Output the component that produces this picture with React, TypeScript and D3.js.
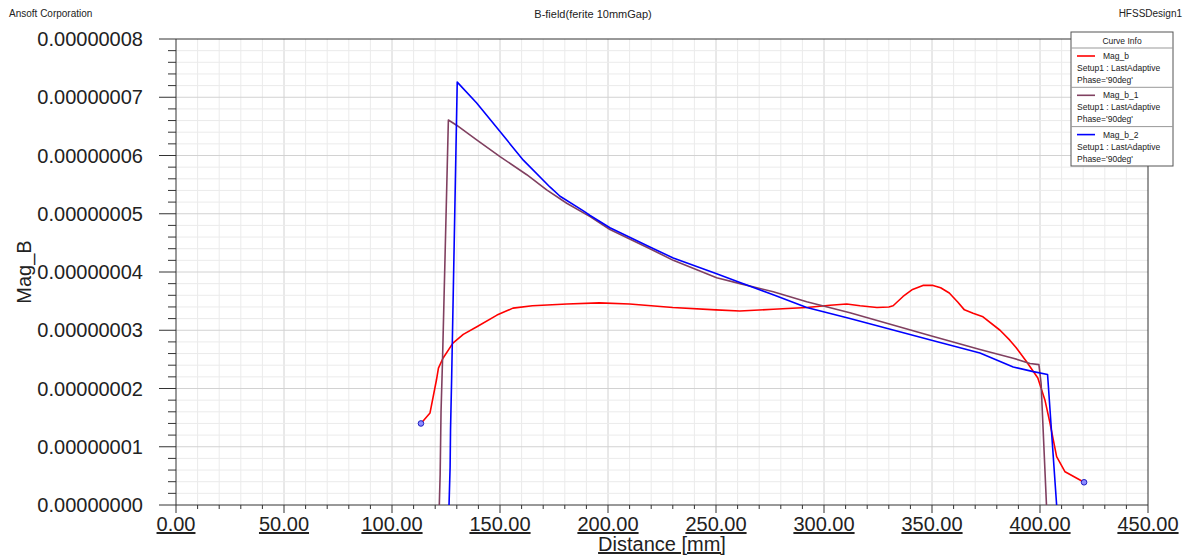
import * as d3 from "d3"

// Mag_b (red)
const magBDist = [113.4, 117.6, 120.6, 121.5, 123.6, 128.2, 133, 139.3, 148.6, 156, 165, 181, 196, 210, 230, 250, 261, 276.5, 292, 302.8, 310.5, 316.7, 324.5, 330, 332, 336.6, 341, 345.8, 350.5, 354, 358, 362, 365, 369, 373.6, 381.5, 386, 389, 393.8, 399, 402.3, 404.6, 407.7, 411.6, 420.4]
const magBVal = [1.4, 1.58, 2.15, 2.35, 2.52, 2.78, 2.93, 3.06, 3.26, 3.38, 3.42, 3.45, 3.47, 3.45, 3.39, 3.35, 3.33, 3.36, 3.39, 3.43, 3.45, 3.42, 3.39, 3.4, 3.42, 3.58, 3.7, 3.77, 3.77, 3.73, 3.64, 3.48, 3.35, 3.29, 3.23, 3.0, 2.83, 2.7, 2.46, 2.18, 1.8, 1.41, 0.83, 0.57, 0.39]

// Mag_b_1 (maroon)
const magB1Dist = [121.9, 122.3, 122.7, 123.4, 126.1, 129.9, 139.2, 150, 162.4, 171.6, 180.9, 191.7, 200.9, 219.4, 230.2, 250.3, 261.1, 276.5, 292, 312, 349.8, 372.2, 387.6, 395.4, 399.5, 400.5, 403]
const magB1Val = [0, 0.53, 1.6, 2.5, 6.61, 6.52, 6.27, 5.98, 5.67, 5.41, 5.18, 4.95, 4.73, 4.4, 4.2, 3.9, 3.8, 3.66, 3.49, 3.3, 2.9, 2.67, 2.52, 2.43, 2.41, 2.09, 0]

// Mag_b_2 (blue)
const magB2Dist = [126.4, 126.9, 127.1, 127.6, 130.2, 139.2, 150, 160.8, 173.1, 177.8, 188.6, 191.7, 200.9, 219.4, 230.2, 250.3, 261.1, 276.5, 292, 312, 349.8, 372.2, 387.6, 396.9, 403.5, 407.7]
const magB2Val = [0, 0.65, 1.3, 2.15, 7.26, 6.9, 6.41, 5.92, 5.46, 5.3, 5.05, 4.97, 4.76, 4.43, 4.24, 3.97, 3.82, 3.61, 3.39, 3.2, 2.83, 2.61, 2.37, 2.29, 2.24, 0]

const xTicks = [0, 50, 100, 150, 200, 250, 300, 350, 400, 450]
const yTicks = [0, 1e-8, 2e-8, 3e-8, 4e-8, 5e-8, 6e-8, 7e-8, 8e-8]

const seriesNames = ["Mag_b", "Mag_b_1", "Mag_b_2"]
const seriesColors = ["#ff0000", "#804060", "#0000ff"]

const W = 1186
const H = 558
const left = 176
const right = 1148
const top = 39
const bottom = 505

export default function App() {
  const x = d3.scaleLinear().domain([0, 450]).range([left, right])
  const y = d3.scaleLinear().domain([0, 8e-8]).range([bottom, top])

  const toPts = (ds: number[], vs: number[]) => ds.map((d, i) => [d, vs[i] * 1e-8] as [number, number])
  const series = [toPts(magBDist, magBVal), toPts(magB1Dist, magB1Val), toPts(magB2Dist, magB2Val)]

  const line = d3
    .line<[number, number]>()
    .x((d) => x(d[0]))
    .y((d) => y(d[1]))

  const minorX = d3.range(10, 450, 10)
  const minorY = d3.range(1, 40).map((i) => i * 0.2e-8)

  const font = "Arial, 'Liberation Sans', sans-serif"
  const red = series[0]
  const ends = [red[0], red[red.length - 1]]

  return (
    <svg width={W} height={H} style={{ position: "absolute", left: 0, top: 0, background: "#fff" }} fontFamily={font}>
      <rect width={W} height={H} fill="#fff" />
      <text x={9} y={17} fontSize={10} fill="#222">Ansoft Corporation</text>
      <text x={W / 2} y={18} fontSize={11} textAnchor="middle" fill="#222">B-field(ferite 10mmGap)</text>
      <text x={1182} y={17} fontSize={10} textAnchor="end" fill="#222">HFSSDesign1</text>

      {/* grid */}
      {minorX.map((v) => (
        <line key={"gx" + v} x1={x(v)} x2={x(v)} y1={top} y2={bottom} stroke={v % 50 === 0 ? "#d2d2d2" : "#ebebeb"} />
      ))}
      {minorY.map((v, i) => (
        <line key={"gy" + i} x1={left} x2={right} y1={y(v)} y2={y(v)} stroke={(i + 1) % 5 === 0 ? "#d2d2d2" : "#ebebeb"} />
      ))}

      {/* frame */}
      <line x1={left} x2={right} y1={top} y2={top} stroke="#333" />
      <line x1={right} x2={right} y1={top} y2={bottom} stroke="#333" />
      <line x1={left} x2={left} y1={top} y2={bottom} stroke="#333" />
      <line x1={left} x2={right} y1={bottom} y2={bottom} stroke="#333" />

      {/* y ticks */}
      {d3.range(0, 41).map((i) => {
        const major = i % 5 === 0
        const yy = y(i * 0.2e-8)
        return <line key={"ty" + i} x1={major ? 159 : 168} x2={left} y1={yy} y2={yy} stroke="#333" />
      })}
      {yTicks.map((v) => (
        <text key={"ly" + v} x={143} y={y(v)} dy="0.36em" fontSize={20} textAnchor="end" fill="#222">
          {v.toFixed(8)}
        </text>
      ))}

      {/* x ticks */}
      {d3.range(0, 451, 10).map((v) => (
        <line key={"tx" + v} x1={x(v)} x2={x(v)} y1={bottom} y2={bottom + (v % 50 === 0 ? 8 : 4)} stroke="#333" />
      ))}
      {xTicks.map((v) => (
        <text key={"lx" + v} x={x(v)} y={531} fontSize={20} textAnchor="middle" fill="#222" textDecoration="underline">
          {v.toFixed(2)}
        </text>
      ))}
      <text x={(left + right) / 2} y={551} fontSize={20} textAnchor="middle" fill="#222" textDecoration="underline">
        Distance [mm]
      </text>
      <text transform="translate(31,272) rotate(-90)" fontSize={20} textAnchor="middle" fill="#222">
        Mag_B
      </text>

      {/* curves */}
      <g clipPath="url(#plotclip)">
        <clipPath id="plotclip">
          <rect x={left} y={top} width={right - left} height={bottom - top} />
        </clipPath>
        {series.map((s, i) => (
          <path key={"s" + i} d={line(s) || ""} fill="none" stroke={seriesColors[i]} strokeWidth={1.6} strokeLinejoin="round" />
        ))}
      </g>
      {ends.map((p, i) => (
        <circle key={"m" + i} cx={x(p[0])} cy={y(p[1])} r={2.8} fill="#8c8cff" stroke="#2020c0" strokeWidth={1} />
      ))}

      {/* legend */}
      <g fontSize={8.5} fill="#222">
        <rect x={1071} y={32} width={102} height={134} fill="#fff" stroke="#555" />
        <text x={1122} y={44} textAnchor="middle">Curve Info</text>
        <line x1={1071} x2={1173} y1={48} y2={48} stroke="#999" />
        {seriesNames.map((n, i) => {
          const oy = 48 + i * 39.3
          return (
            <g key={"lg" + i}>
              {i > 0 && <line x1={1071} x2={1173} y1={oy} y2={oy} stroke="#999" />}
              <line x1={1077} x2={1095} y1={oy + 8} y2={oy + 8} stroke={seriesColors[i]} strokeWidth={1.6} />
              <text x={1103} y={oy + 11}>{n}</text>
              <text x={1077} y={oy + 23}>Setup1 : LastAdaptive</text>
              <text x={1077} y={oy + 35}>Phase='90deg'</text>
            </g>
          )
        })}
      </g>
    </svg>
  )
}
